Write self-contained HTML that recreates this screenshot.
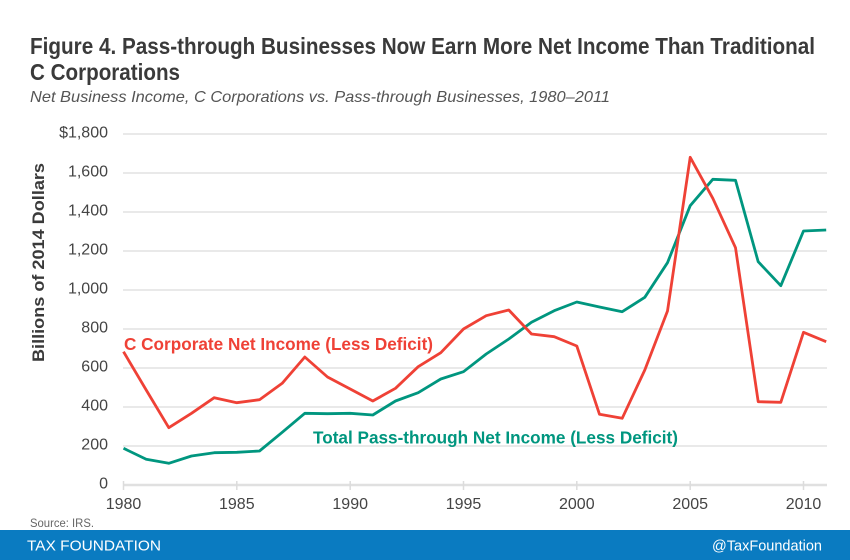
<!DOCTYPE html>
<html>
<head>
<meta charset="utf-8">
<style>
  html,body{margin:0;padding:0;background:#fff;}
  svg{display:block;}
  text{font-family:"Liberation Sans",sans-serif;}
</style>
</head>
<body>
<svg width="850" height="560" viewBox="0 0 850 560" xmlns="http://www.w3.org/2000/svg">
  <rect width="850" height="560" fill="#fff"/>
  <!-- Title -->
  <text x="30" y="54" font-size="23" font-weight="bold" fill="#3a3a3a" textLength="785" lengthAdjust="spacingAndGlyphs">Figure 4. Pass-through Businesses Now Earn More Net Income Than Traditional</text>
  <text x="30" y="80" font-size="23" font-weight="bold" fill="#3a3a3a" textLength="150" lengthAdjust="spacingAndGlyphs">C Corporations</text>
  <text x="30" y="102" font-size="16" font-style="italic" fill="#555" textLength="580" lengthAdjust="spacingAndGlyphs">Net Business Income, C Corporations vs. Pass-through Businesses, 1980–2011</text>

  <!-- Gridlines -->
  <g stroke="#e2e2e2" stroke-width="1.5">
    <line x1="123" y1="134" x2="827" y2="134"/>
    <line x1="123" y1="173" x2="827" y2="173"/>
    <line x1="123" y1="212" x2="827" y2="212"/>
    <line x1="123" y1="251" x2="827" y2="251"/>
    <line x1="123" y1="290" x2="827" y2="290"/>
    <line x1="123" y1="329" x2="827" y2="329"/>
    <line x1="123" y1="368" x2="827" y2="368"/>
    <line x1="123" y1="407" x2="827" y2="407"/>
    <line x1="123" y1="446" x2="827" y2="446"/>
  </g>
  <line x1="123" y1="485" x2="827" y2="485" stroke="#e0e0e0" stroke-width="2.5"/>
  <g stroke="#dcdcdc" stroke-width="1.5">
    <line x1="123.5" y1="481" x2="123.5" y2="490"/>
    <line x1="236.8" y1="481" x2="236.8" y2="490"/>
    <line x1="350.2" y1="481" x2="350.2" y2="490"/>
    <line x1="463.5" y1="481" x2="463.5" y2="490"/>
    <line x1="576.8" y1="481" x2="576.8" y2="490"/>
    <line x1="690.2" y1="481" x2="690.2" y2="490"/>
    <line x1="803.5" y1="481" x2="803.5" y2="490"/>
  </g>

  <!-- Y labels -->
  <g font-size="16" fill="#444" text-anchor="end">
    <text x="108" y="137.5">$1,800</text>
    <text x="108" y="176.5">1,600</text>
    <text x="108" y="215.5">1,400</text>
    <text x="108" y="254.5">1,200</text>
    <text x="108" y="293.5">1,000</text>
    <text x="108" y="332.5">800</text>
    <text x="108" y="371.5">600</text>
    <text x="108" y="410.5">400</text>
    <text x="108" y="449.5">200</text>
    <text x="108" y="488.5">0</text>
  </g>
  <!-- X labels -->
  <g font-size="16" fill="#444" text-anchor="middle">
    <text x="123.5" y="509">1980</text>
    <text x="236.8" y="509">1985</text>
    <text x="350.2" y="509">1990</text>
    <text x="463.5" y="509">1995</text>
    <text x="576.8" y="509">2000</text>
    <text x="690.2" y="509">2005</text>
    <text x="803.5" y="509">2010</text>
  </g>

  <!-- Y axis title -->
  <text transform="translate(44,262.5) rotate(-90)" text-anchor="middle" font-size="17" font-weight="bold" fill="#3a3a3a" textLength="199" lengthAdjust="spacingAndGlyphs">Billions of 2014 Dollars</text>

  <!-- Series -->
  <polyline fill="none" stroke="#00967f" stroke-width="2.8" stroke-linejoin="round" points="123.5,448.3 146.2,459.3 168.8,463.3 191.5,456 214.2,452.7 236.8,452.3 259.5,451 282.2,432.3 304.8,413.3 327.5,413.7 350.2,413.3 372.8,415 395.5,401 418.2,392.7 440.8,379 463.5,371.7 486.2,354 508.8,339 531.5,322.3 554.2,310.7 576.8,302 599.5,307 622.2,311.7 644.8,297.3 667.5,262.7 690.2,205.7 712.8,179.3 735.5,180.3 758.2,261.7 780.8,285.7 803.5,231 826.2,230"/>
  <polyline fill="none" stroke="#ef4136" stroke-width="2.8" stroke-linejoin="round" points="123.5,351.7 146.2,390 168.8,427.7 191.5,413.3 214.2,397.7 236.8,402.7 259.5,399.7 282.2,383.3 304.8,357 327.5,377 350.2,389 372.8,401 395.5,388.3 418.2,366.7 440.8,352.7 463.5,329 486.2,315.7 508.8,310 531.5,334 554.2,336.7 576.8,346 599.5,414.3 622.2,418.3 644.8,370 667.5,311 690.2,157.3 712.8,198.3 735.5,247.7 758.2,401.7 780.8,402.3 803.5,332.3 826.2,341.7"/>

  <!-- Series labels -->
  <text x="124" y="350" font-size="17.5" font-weight="bold" fill="#ef4136" textLength="309" lengthAdjust="spacingAndGlyphs">C Corporate Net Income (Less Deficit)</text>
  <text x="313" y="443.5" font-size="17.5" font-weight="bold" fill="#00967f" textLength="365" lengthAdjust="spacingAndGlyphs">Total Pass-through Net Income (Less Deficit)</text>

  <!-- Source -->
  <text x="30" y="527" font-size="11.5" fill="#666" textLength="64" lengthAdjust="spacingAndGlyphs">Source: IRS.</text>

  <!-- Footer -->
  <rect x="0" y="530" width="850" height="30" fill="#0a7bc1"/>
  <text x="27" y="550.5" font-size="15" fill="#fff" textLength="134" lengthAdjust="spacingAndGlyphs">TAX FOUNDATION</text>
  <text x="822" y="550.5" font-size="15" fill="#fff" text-anchor="end" textLength="110" lengthAdjust="spacingAndGlyphs">@TaxFoundation</text>
</svg>
</body>
</html>
